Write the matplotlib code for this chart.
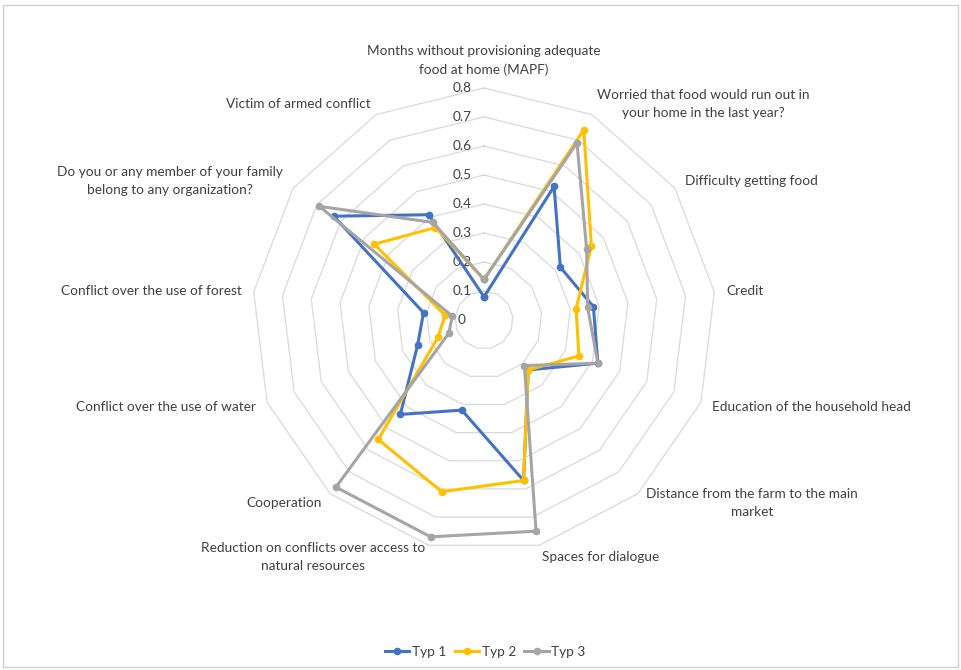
import numpy as np
import matplotlib
matplotlib.use("Agg")
import matplotlib.pyplot as plt
from matplotlib.transforms import offset_copy
from matplotlib.patches import Rectangle

categories = [
    "Months without provisioning adequate\nfood at home (MAPF)",
    "Worried that food would run out in\nyour home in the last year?",
    "Difficulty getting food",
    "Credit",
    "Education of the household head",
    "Distance from the farm to the main\nmarket",
    "Spaces for dialogue",
    "Reduction on conflicts over access to\nnatural resources",
    "Cooperation",
    "Conflict over the use of water",
    "Conflict over the use of forest",
    "Do you or any member of your family\nbelong to any organization?",
    "Victim of armed conflict",
]
typ1 = [0.08, 0.52, 0.32, 0.38, 0.42, 0.23, 0.57, 0.32, 0.435, 0.245, 0.21, 0.63, 0.41]
typ2 = [0.14, 0.74, 0.45, 0.32, 0.35, 0.23, 0.57, 0.61, 0.55, 0.17, 0.135, 0.46, 0.36]
typ3 = [0.14, 0.69, 0.43, 0.36, 0.42, 0.21, 0.75, 0.77, 0.77, 0.13, 0.11, 0.69, 0.38]
series = [("Typ 1", typ1, "#4472C4"), ("Typ 2", typ2, "#FFC000"), ("Typ 3", typ3, "#A5A5A5")]
levels = [0, 0.1, 0.2, 0.3, 0.4, 0.5, 0.6, 0.7, 0.8]

plt.rcParams['font.family'] = ['Lato', 'DejaVu Sans']
txt_color = "#404040"

fig = plt.figure(figsize=(9.61, 6.70), dpi=100)
cx, cy, rad = 484 / 961, (670 - 320) / 670, 232
ax = fig.add_axes([cx - rad / 961, cy - rad / 670, 2 * rad / 961, 2 * rad / 670], projection="polar")
ax.set_theta_zero_location("N")
ax.set_theta_direction(-1)
ax.set_ylim(0, 0.8)
ax.grid(False)
ax.spines["polar"].set_visible(False)
ax.set_xticks([])
ax.set_yticks([])
ax.patch.set_alpha(0)

n = len(categories)
angles = np.linspace(0, 2 * np.pi, n, endpoint=False)
closed = np.append(angles, angles[0])

# polygon gridlines
for lv in levels[1:]:
    ax.plot(closed, [lv] * (n + 1), color="#d9d9d9", lw=0.9, clip_on=False, zorder=1)

# value labels along the top spoke
lab_tr = offset_copy(ax.transData, fig=fig, x=-22, y=0, units="dots")
for lv in levels:
    ax.text(0, lv, f"{lv:g}", ha="center", va="center", fontsize=9.8,
            color=txt_color, transform=lab_tr)

# category labels
for ang, cat in zip(angles, categories):
    s, c = np.sin(ang), np.cos(ang)
    ha = "left" if s > 0.1 else ("right" if s < -0.1 else "center")
    va = "bottom" if c > 0.95 else "center"
    tr = offset_copy(ax.transData, fig=fig, x=12 * s, y=12 * c, units="dots")
    ax.text(ang, 0.8, cat, ha=ha, va=va, fontsize=9.8, color=txt_color,
            transform=tr, multialignment="center", linespacing=1.6)

for name, vals, col in series:
    ax.plot(closed, vals + vals[:1], color=col, lw=2.2, marker="o", ms=4.5,
            label=name, clip_on=False, zorder=3)

fig.legend(loc="lower center", bbox_to_anchor=(0.505, 0.0), ncol=3, frameon=False,
           fontsize=9.8, handlelength=1.8, columnspacing=0.6, handletextpad=0.2,
           labelcolor=txt_color)

fig.patches.append(Rectangle((0.003, 0.004), 0.994, 0.988, transform=fig.transFigure,
                             fill=False, edgecolor="#d0d0d0", lw=1))

fig.savefig("out.png", dpi=100)
